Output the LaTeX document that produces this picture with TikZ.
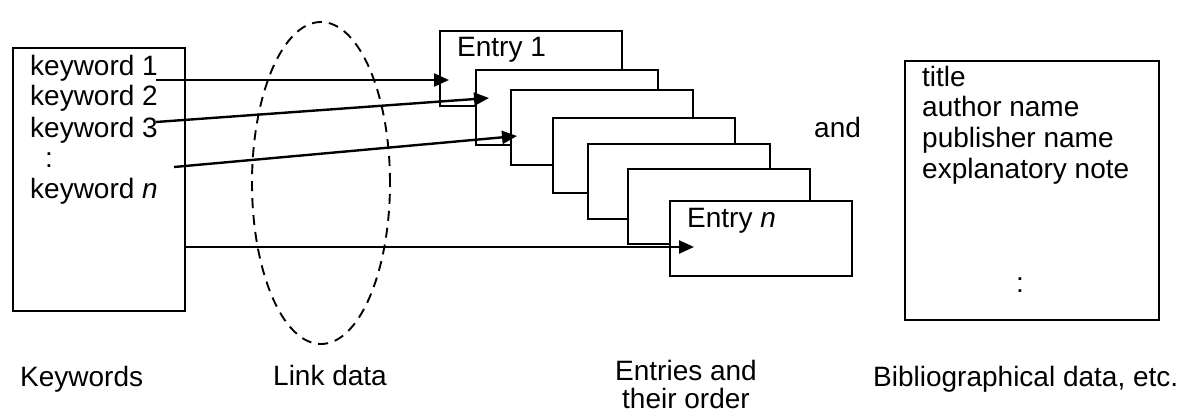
\documentclass[tikz,border=0pt]{standalone}
\usepackage{fontspec}
\setmainfont{Liberation Sans}
\usetikzlibrary{arrows.meta,shapes.geometric}
\tikzset{
  box/.style={draw, line width=2.1pt, fill=white, inner sep=0pt, anchor=north west},
  entrybox/.style={box, minimum width=182pt, minimum height=75pt},
  txt/.style={inner sep=0pt, anchor=base west, font=\fontsize{28}{30}\selectfont},
  ctxt/.style={inner sep=0pt, anchor=base, font=\fontsize{28}{30}\selectfont},
  link/.style={line width=2.4pt, -{Triangle[length=15pt, width=13pt]}},
  linkarea/.style={draw, line width=1.9pt, dash pattern=on 10pt off 7pt}
}
\begin{document}
\begin{tikzpicture}[x=1pt, y=-1pt]
\useasboundingbox (0,0) rectangle (1189,412);
% keywords box
\node[box, minimum width=172pt, minimum height=263pt] (kwbox) at (12,47) {};
\node[txt] (kw1) at (30,75) {keyword 1};
\node[txt] (kw2) at (30,106) {keyword 2};
\node[txt] (kw3) at (30,137) {keyword 3};
\node[txt] (kwdots) at (45,167) {:};
\node[txt] (kwn) at (30,198) {keyword \textit{n}};
% link data ellipse
\node[linkarea, ellipse, minimum width=138pt, minimum height=322pt, inner sep=0pt] (link) at (321,183) {};
% entries
\node[entrybox] (e1) at (439,30) {};
\node[txt] (e1t) at (457,57) {Entry 1};
\node[entrybox] (e2) at (475,69) {};
\node[entrybox] (e3) at (510,89) {};
\node[entrybox] (e4) at (552,117) {};
\node[entrybox] (e5) at (587,143) {};
\node[entrybox] (e6) at (627,168) {};
\node[entrybox] (e7) at (669,200) {};
\node[txt] (e7t) at (687,227) {Entry \textit{n}};
% and
\node[txt] (and) at (814,137) {and};
% bibliographical box
\node[box, minimum width=254pt, minimum height=259pt] (bib) at (904,60) {};
\node[txt] (b1) at (922,86) {title};
\node[txt] (b2) at (922,117) {author name};
\node[txt] (b3) at (922,147) {publisher name};
\node[txt] (b4) at (922,178) {explanatory note};
\node[txt] (bdots) at (1016,292) {:};
% connectors
\coordinate (s1) at (156,80);  \coordinate (t1) at (449,80);
\coordinate (s2) at (156,122); \coordinate (t2) at (489,98);
\coordinate (s3) at (174,167); \coordinate (t3) at (517,136);
\coordinate (s4) at (184,247); \coordinate (t4) at (694,247);
\draw[link] (s1) -- (t1);
\draw[link] (s2) -- (t2);
\draw[link] (s3) -- (t3);
\draw[link] (s4) -- (t4);
% captions
\node[txt] (capk) at (20,386) {Keywords};
\node[txt] (capl) at (273,385) {Link data};
\node[ctxt] (cape1) at (686,380) {Entries and};
\node[ctxt] (cape2) at (686,408) {their order};
\node[txt] (capb) at (873,386) {Bibliographical data, etc.};
\end{tikzpicture}
\end{document}
